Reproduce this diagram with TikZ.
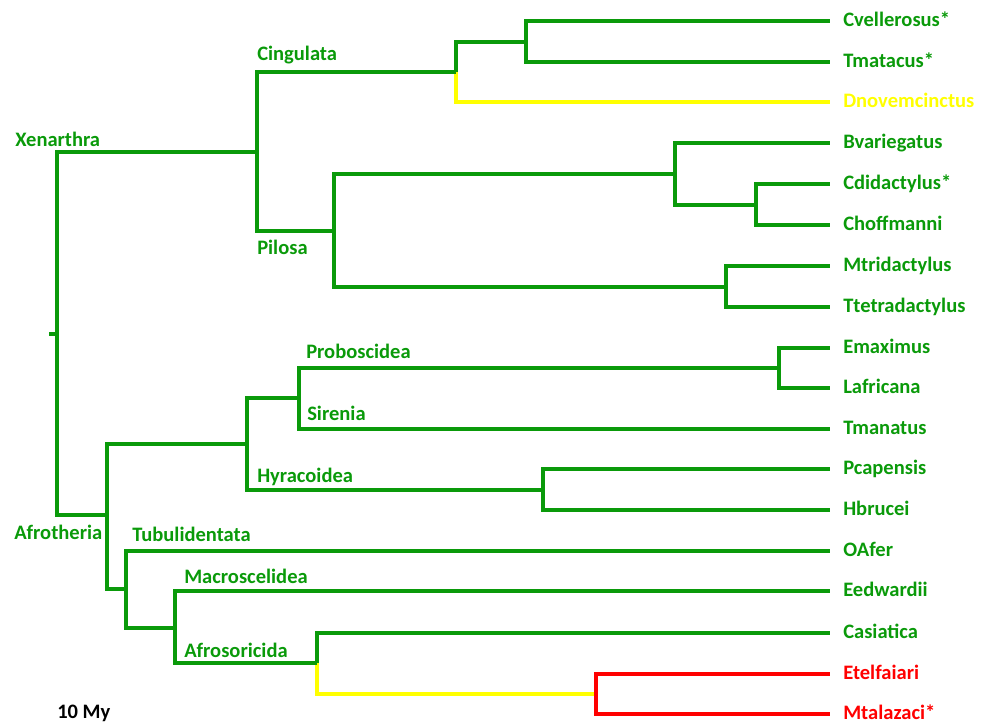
\documentclass[tikz,border=0pt]{standalone}
\usepackage{fontspec}
\setmainfont{Carlito}
\usetikzlibrary{positioning}
\definecolor{treeGreen}{HTML}{0A9A0A}
\definecolor{treeYellow}{HTML}{FFFF00}
\definecolor{treeRed}{HTML}{FF0000}
\tikzset{
  branch/.style={line width=2.5pt, line join=miter},
  leaf/.style={
    anchor=west, inner xsep=9.75pt, inner ysep=0pt,
    text height=7.6pt, text depth=0pt,
    font=\fontsize{15.4}{18}\selectfont\bfseries,
  },
  clade/.style={
    anchor=base west, inner sep=0pt, text=treeGreen,
    font=\fontsize{15.4}{18}\selectfont\bfseries,
  },
}

\begin{document}
\begin{tikzpicture}[x=0.75pt, y=-0.75pt]
\useasboundingbox (0,0) rectangle (989,722);

% --- INTERNAL NODES (pixel grid, y down) ---
\coordinate (stem) at (49,334);
\coordinate (root) at (57,334);
\coordinate (xen)  at (257,152);
\coordinate (cing) at (456,72);
\coordinate (cing1) at (526,42);
\coordinate (pil)  at (334,231);
\coordinate (pil1) at (675,174);
\coordinate (pil2) at (726,287);
\coordinate (pil3) at (756,205);
\coordinate (afr)  at (107,515);
\coordinate (afr1) at (247,444);
\coordinate (afr2) at (126,589);
\coordinate (afr3) at (299,398);
\coordinate (prob) at (779,368);
\coordinate (hyr)  at (543,490);
\coordinate (afr4) at (175,628);
\coordinate (afs)  at (317,663);
\coordinate (tenr) at (596,694);

% --- LEAVES ---
\foreach \id/\y/\name/\col in {%
  cvel/21/Cvellerosus*/treeGreen,
  tmat/62/Tmatacus*/treeGreen,
  dnov/102/Dnovemcinctus/treeYellow,
  bvar/143/Bvariegatus/treeGreen,
  cdid/184/Cdidactylus*/treeGreen,
  chof/225/Choffmanni/treeGreen,
  mtri/266/Mtridactylus/treeGreen,
  ttet/307/Ttetradactylus/treeGreen,
  emax/348/Emaximus/treeGreen,
  lafr/388/Lafricana/treeGreen,
  tman/429/Tmanatus/treeGreen,
  pcap/469/Pcapensis/treeGreen,
  hbru/510/Hbrucei/treeGreen,
  oafe/551/OAfer/treeGreen,
  eedw/591/Eedwardii/treeGreen,
  casi/633/Casiatica/treeGreen,
  etel/674/Etelfaiari/treeRed,
  mtal/714/Mtalazaci*/treeRed%
} {
  \node[leaf, text=\col] (\id) at (830,\y) {\name};
}

% --- BRANCHES (coloured ones first, green drawn over them) ---
\draw[branch, treeGreen] (stem) -- (root);
\foreach \p/\c/\col in {%
  cing/dnov.west/treeYellow,
  afs/tenr/treeYellow,
  tenr/etel.west/treeRed,
  tenr/mtal.west/treeRed,
  root/xen/treeGreen, root/afr/treeGreen,
  xen/cing/treeGreen, xen/pil/treeGreen,
  cing/cing1/treeGreen,
  cing1/cvel.west/treeGreen, cing1/tmat.west/treeGreen,
  pil/pil1/treeGreen, pil/pil2/treeGreen,
  pil1/bvar.west/treeGreen, pil1/pil3/treeGreen,
  pil3/cdid.west/treeGreen, pil3/chof.west/treeGreen,
  pil2/mtri.west/treeGreen, pil2/ttet.west/treeGreen,
  afr/afr1/treeGreen, afr/afr2/treeGreen,
  afr1/afr3/treeGreen, afr1/hyr/treeGreen,
  afr3/prob/treeGreen, afr3/tman.west/treeGreen,
  prob/emax.west/treeGreen, prob/lafr.west/treeGreen,
  hyr/pcap.west/treeGreen, hyr/hbru.west/treeGreen,
  afr2/oafe.west/treeGreen, afr2/afr4/treeGreen,
  afr4/eedw.west/treeGreen, afr4/afs/treeGreen,
  afs/casi.west/treeGreen%
} {
  \draw[branch, \col] (\p) |- (\c);
}

% --- CLADE NAMES ---
\node[clade] (lxen) at (15,146) {Xenarthra};
\node[clade] (lafr) at (14,539) {Afrotheria};
\node[clade] (lcing) at (257,60) {Cingulata};
\node[clade] (lpil) at (257,254) {Pilosa};
\node[clade] (lprob) at (306,358) {Proboscidea};
\node[clade] (lsir) at (307,420) {Sirenia};
\node[clade] (lhyr) at (257,482) {Hyracoidea};
\node[clade] (ltub) at (132,541) {Tubulidentata};
\node[clade] (lmac) at (184,583) {Macroscelidea};
\node[clade] (lafs) at (184,657) {Afrosoricida};

% scale note
\node[clade, text=black] (scale) at (57,718) {10 My};

\end{tikzpicture}
\end{document}
